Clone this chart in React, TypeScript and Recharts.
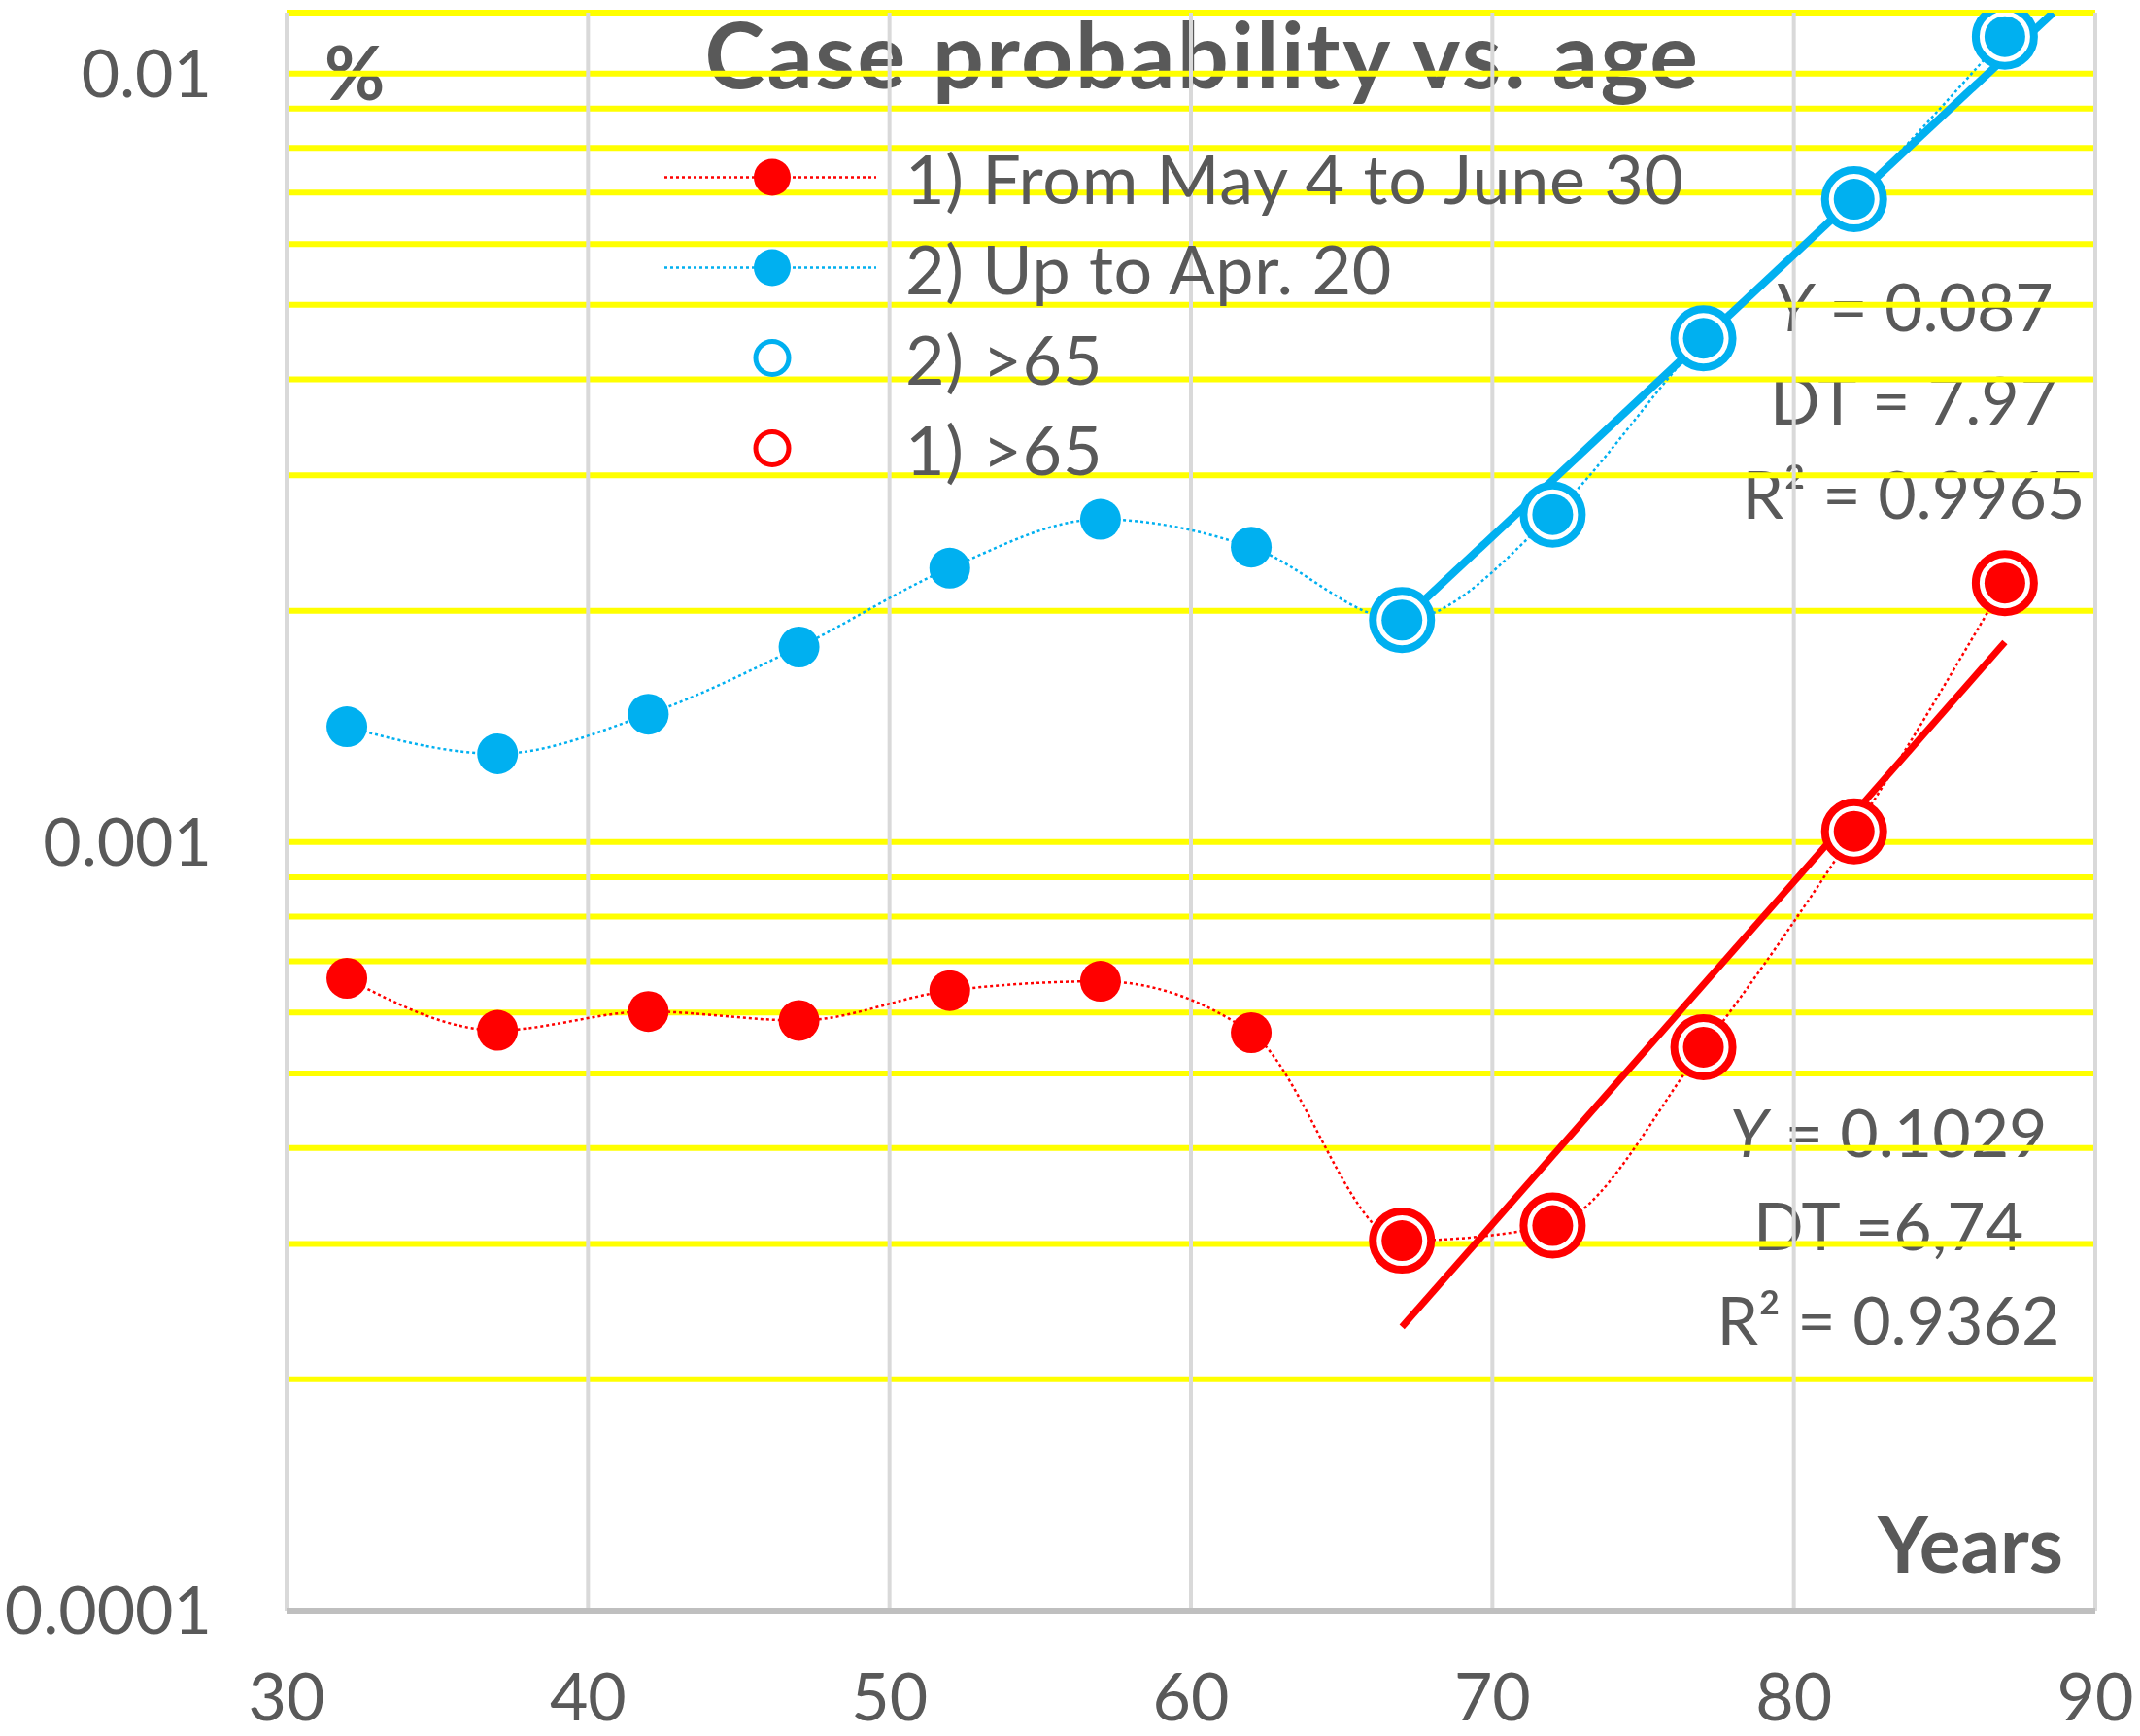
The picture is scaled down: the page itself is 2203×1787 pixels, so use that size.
import React from 'react';
import {
  ComposedChart,
  Line,
  XAxis,
  YAxis,
  ReferenceLine,
  Legend,
  Customized
} from 'recharts';

const RED = '#FF0000';
const BLUE = '#00B0F0';
const TEXT = '#595959';
const FONT = 'Lato, "Open Sans", sans-serif';

// ages (middle of each 5-year band)
const ages = [32, 37, 42, 47, 52, 57, 62, 67, 72, 77, 82, 87];

// 1) From May 4 to June 30
const periodOne = [0.000665, 0.000569, 0.000602, 0.000586, 0.000641, 0.000659, 0.000565, 0.000303, 0.000317, 0.000541, 0.001033, 0.002173];

// 2) Up to Apr. 20
const periodTwo = [0.001413, 0.001303, 0.001467, 0.001794, 0.002272, 0.00263, 0.00242, 0.001945, 0.002668, 0.004524, 0.006862, 0.01117];

// exponential trend lines (straight on the log axis), end points
const trendOne = [
  { age: 67, value: 0.000234 },
  { age: 87, value: 0.00182 }
];
const trendTwo = [
  { age: 67, value: 0.00194 },
  { age: 88.6, value: 0.012 }
];

const xTicks = [30, 40, 50, 60, 70, 80, 90];
const yTicks = [0.0001, 0.001, 0.01];
const yGrid = [
  0.0002, 0.0003, 0.0004, 0.0005, 0.0006, 0.0007, 0.0008, 0.0009, 0.001,
  0.002, 0.003, 0.004, 0.005, 0.006, 0.007, 0.008, 0.009, 0.01, 0.012
];

const rows = ages.map((age, i) => ({
  age,
  one: periodOne[i],
  two: periodTwo[i],
  oneOld: age > 65 ? periodOne[i] : null,
  twoOld: age > 65 ? periodTwo[i] : null
}));

const legendItems = [
  { label: '1) From May 4 to June 30', color: RED, ring: false },
  { label: '2) Up to Apr. 20', color: BLUE, ring: false },
  { label: '2) >65', color: BLUE, ring: true },
  { label: '1) >65', color: RED, ring: true }
];

const renderLegend = () => (
  <div style={{ fontFamily: FONT, fontSize: 70, letterSpacing: 0.7, color: TEXT }}>
    {legendItems.map((item) => (
      <div key={item.label} style={{ display: 'flex', alignItems: 'center', height: 93 }}>
        <svg width={248} height={93}>
          {!item.ring && (
            <line x1={0} y1={46.5} x2={218} y2={46.5} stroke={item.color} strokeWidth={2.5} strokeDasharray="3 3" />
          )}
          {item.ring ? (
            <circle cx={111} cy={46.5} r={17} fill="#fff" stroke={item.color} strokeWidth={5} />
          ) : (
            <circle cx={111} cy={46.5} r={19} fill={item.color} />
          )}
        </svg>
        <span style={{ whiteSpace: 'nowrap' }}>{item.label}</span>
      </div>
    ))}
  </div>
);

const XTick = (props: any) => (
  <text x={props.x} y={1771} textAnchor="middle" fill={TEXT} fontFamily={FONT} fontSize={68}>
    {props.payload.value}
  </text>
);

const YTick = (props: any) => (
  <text x={218} y={props.y} dy="0.36em" textAnchor="end" fill={TEXT} fontFamily={FONT} fontSize={68}>
    {String(props.payload.value)}
  </text>
);

const Annotations = () => (
  <g fontFamily={FONT} fill={TEXT}>
    <text x={1238} y={91} textAnchor="middle" fontSize={93} fontWeight={700} letterSpacing={2.5}>
      Case probability vs. age
    </text>
    <text x={334} y={103} fontSize={76} fontWeight={700}>%</text>
    <text x={2124} y={1619} textAnchor="end" fontSize={80} fontWeight={700}>Years</text>

    <g fontSize={68} textAnchor="middle">
      <text x={1970} y={341}><tspan fontStyle="italic">Y</tspan> = 0.087</text>
      <text x={1970} y={437}>DT = 7.97</text>
      <text x={1970} y={534}>R² = 0.9965</text>

      <text x={1944} y={1191}><tspan fontStyle="italic">Y</tspan> = 0.1029</text>
      <text x={1944} y={1287}>DT =6,74</text>
      <text x={1944} y={1384}>R² = 0.9362</text>
    </g>
  </g>
);

export default function App() {
  return (
    <div style={{ position: 'absolute', left: 0, top: 0, width: 2203, height: 1787, background: '#fff' }}>
      <ComposedChart width={2203} height={1787} data={rows} margin={{ top: 13, right: 46, bottom: 0, left: 0 }}>
        <XAxis
          dataKey="age"
          type="number"
          domain={[30, 90]}
          ticks={xTicks}
          height={129}
          tickLine={false}
          axisLine={{ stroke: '#BFBFBF', strokeWidth: 6 }}
          tick={<XTick />}
        />
        <YAxis
          scale="log"
          domain={[0.0001, 0.012]}
          ticks={yTicks}
          width={295}
          allowDataOverflow
          tickLine={false}
          axisLine={false}
          tick={<YTick />}
        />

        {yGrid.map((v) => (
          <ReferenceLine key={'y' + v} y={v} stroke="#FFFF00" strokeWidth={6} />
        ))}
        {xTicks.map((t) => (
          <ReferenceLine key={'x' + t} x={t} stroke="#D9D9D9" strokeWidth={4} />
        ))}

        <Legend
          layout="vertical"
          align="center"
          verticalAlign="middle"
          wrapperStyle={{ left: 684, top: 136, width: 1200 }}
          content={renderLegend}
        />

        {/* smoothed dotted series */}
        <Line dataKey="one" type="monotone" stroke={RED} strokeWidth={2.5} strokeDasharray="3 3" dot={false} isAnimationActive={false} />
        <Line dataKey="two" type="monotone" stroke={BLUE} strokeWidth={2.5} strokeDasharray="3 3" dot={false} isAnimationActive={false} />

        {/* exponential trends for >65 */}
        <Line data={trendOne} dataKey="value" type="linear" stroke={RED} strokeWidth={7} dot={false} isAnimationActive={false} />
        <Line data={trendTwo} dataKey="value" type="linear" stroke={BLUE} strokeWidth={8} dot={false} isAnimationActive={false} />

        {/* open circle markers for >65 */}
        <Line dataKey="twoOld" stroke="none" dot={{ r: 30, fill: '#fff', stroke: BLUE, strokeWidth: 8 }} isAnimationActive={false} />
        <Line dataKey="oneOld" stroke="none" dot={{ r: 30, fill: '#fff', stroke: RED, strokeWidth: 8 }} isAnimationActive={false} />

        {/* filled markers */}
        <Line dataKey="two" stroke="none" dot={{ r: 21, fill: BLUE, stroke: 'none' }} isAnimationActive={false} />
        <Line dataKey="one" stroke="none" dot={{ r: 21, fill: RED, stroke: 'none' }} isAnimationActive={false} />

        <Customized component={Annotations} />
      </ComposedChart>
    </div>
  );
}
